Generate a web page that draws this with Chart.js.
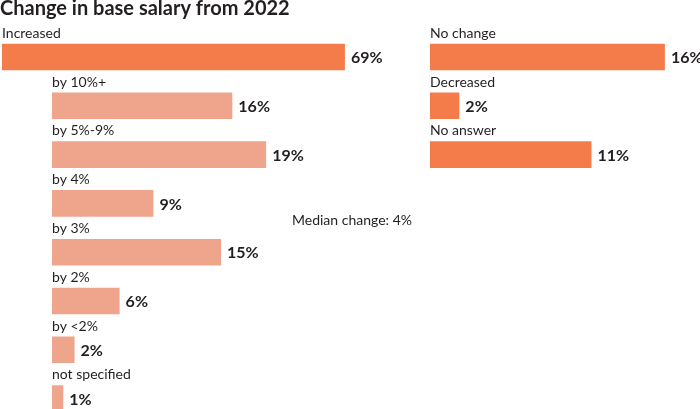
<!DOCTYPE html>
<html>
<head>
<meta charset="utf-8">
<title>Change in base salary from 2022</title>
<script src="https://cdn.jsdelivr.net/npm/chart.js@4/dist/chart.umd.min.js"></script>
<style>
  html, body { margin: 0; padding: 0; background: #fff; overflow: hidden; }
  .wrap { position: relative; width: 700px; height: 423px; }
</style>
</head>
<body>
<div class="wrap"><canvas id="salaryChart"></canvas></div>
<script>
// DATA
const increasedLabels = ["Increased"];
const increasedValues = [69];
const breakdownLabels = ["by 10%+", "by 5%-9%", "by 4%", "by 3%", "by 2%", "by <2%", "not specified"];
const breakdownValues = [16, 19, 9, 15, 6, 2, 1];
const otherLabels = ["No change", "Decreased", "No answer"];
const otherValues = [16, 2, 11];
const medianNote = "Median change: 4%";

const TEXT = "#231f20";
const ORANGE = "#f47c4a";
const PEACH = "#eea58b";

// one row per left-column entry, right column shares the first rows
const rowCount = increasedLabels.length + breakdownLabels.length;
const rows = [...increasedLabels, ...breakdownLabels];

function fillRows(values, startRow) {
  const out = new Array(rowCount).fill(null);
  values.forEach((v, i) => { out[startRow + i] = v; });
  return out;
}
function fillLabels(labels, startRow) {
  const out = new Array(rowCount).fill(null);
  labels.forEach((l, i) => { out[startRow + i] = l; });
  return out;
}

// each panel has its own x scale (zero pixel, pixels per percent)
function axisRange(zeroPx, pxPerUnit) {
  return { min: -zeroPx / pxPerUnit, max: (700 - zeroPx) / pxPerUnit };
}
const mainRange = axisRange(2, 4.97);
const subRange = axisRange(52, 11.27);
const rightRange = axisRange(430, 14.68);

const labelsPlugin = {
  id: "barLabels",
  afterDatasetsDraw(chart) {
    const ctx = chart.ctx;
    ctx.save();
    chart.data.datasets.forEach((ds, di) => {
      const meta = chart.getDatasetMeta(di);
      meta.data.forEach((bar, i) => {
        const v = ds.data[i];
        if (v === null || v === undefined) return;
        // value after bar
        ctx.fillStyle = TEXT;
        ctx.font = "bold 16px Lato";
        ctx.textAlign = "left";
        ctx.textBaseline = "middle";
        ctx.fillText(v + "%", bar.x + 6, bar.y + 1);
        // category above bar
        ctx.font = "14px Lato";
        ctx.textBaseline = "alphabetic";
        ctx.fillText(ds.rowLabels[i], bar.base, bar.y - bar.height / 2 - 6);
      });
    });
    ctx.font = "14px Lato";
    ctx.textBaseline = "alphabetic";
    ctx.fillText(medianNote, 292, 225);
    ctx.restore();
  }
};

const ctx = document.getElementById("salaryChart");

new Chart(ctx, {
  type: "bar",
  data: {
    labels: rows,
    datasets: [
      {
        label: "Increased",
        data: fillRows(increasedValues, 0),
        rowLabels: fillLabels(increasedLabels, 0),
        backgroundColor: ORANGE,
        xAxisID: "xMain"
      },
      {
        label: "Increase breakdown",
        data: fillRows(breakdownValues, 1),
        rowLabels: fillLabels(breakdownLabels, 1),
        backgroundColor: PEACH,
        xAxisID: "xSub"
      },
      {
        label: "Other",
        data: fillRows(otherValues, 0),
        rowLabels: fillLabels(otherLabels, 0),
        backgroundColor: ORANGE,
        xAxisID: "xRight"
      }
    ]
  },
  options: {
    indexAxis: "y",
    responsive: true,
    maintainAspectRatio: false,
    animation: false,
    devicePixelRatio: 1,
    layout: { padding: 0 },
    datasets: {
      bar: {
        grouped: false,
        barPercentage: 0.545,
        categoryPercentage: 1,
        borderWidth: 0
      }
    },
    plugins: {
      legend: { display: false },
      tooltip: { enabled: false },
      title: {
        display: true,
        text: "Change in base salary from 2022",
        align: "start",
        color: TEXT,
        font: { family: "Lato", size: 20, weight: "bold", lineHeight: 0.9 },
        padding: { top: 0, bottom: 14.6 }
      }
    },
    scales: {
      y: { display: false },
      xMain: { type: "linear", position: "bottom", display: false, min: mainRange.min, max: mainRange.max },
      xSub: { type: "linear", position: "bottom", display: false, min: subRange.min, max: subRange.max },
      xRight: { type: "linear", position: "bottom", display: false, min: rightRange.min, max: rightRange.max }
    }
  },
  plugins: [labelsPlugin]
});
</script>
</body>
</html>
